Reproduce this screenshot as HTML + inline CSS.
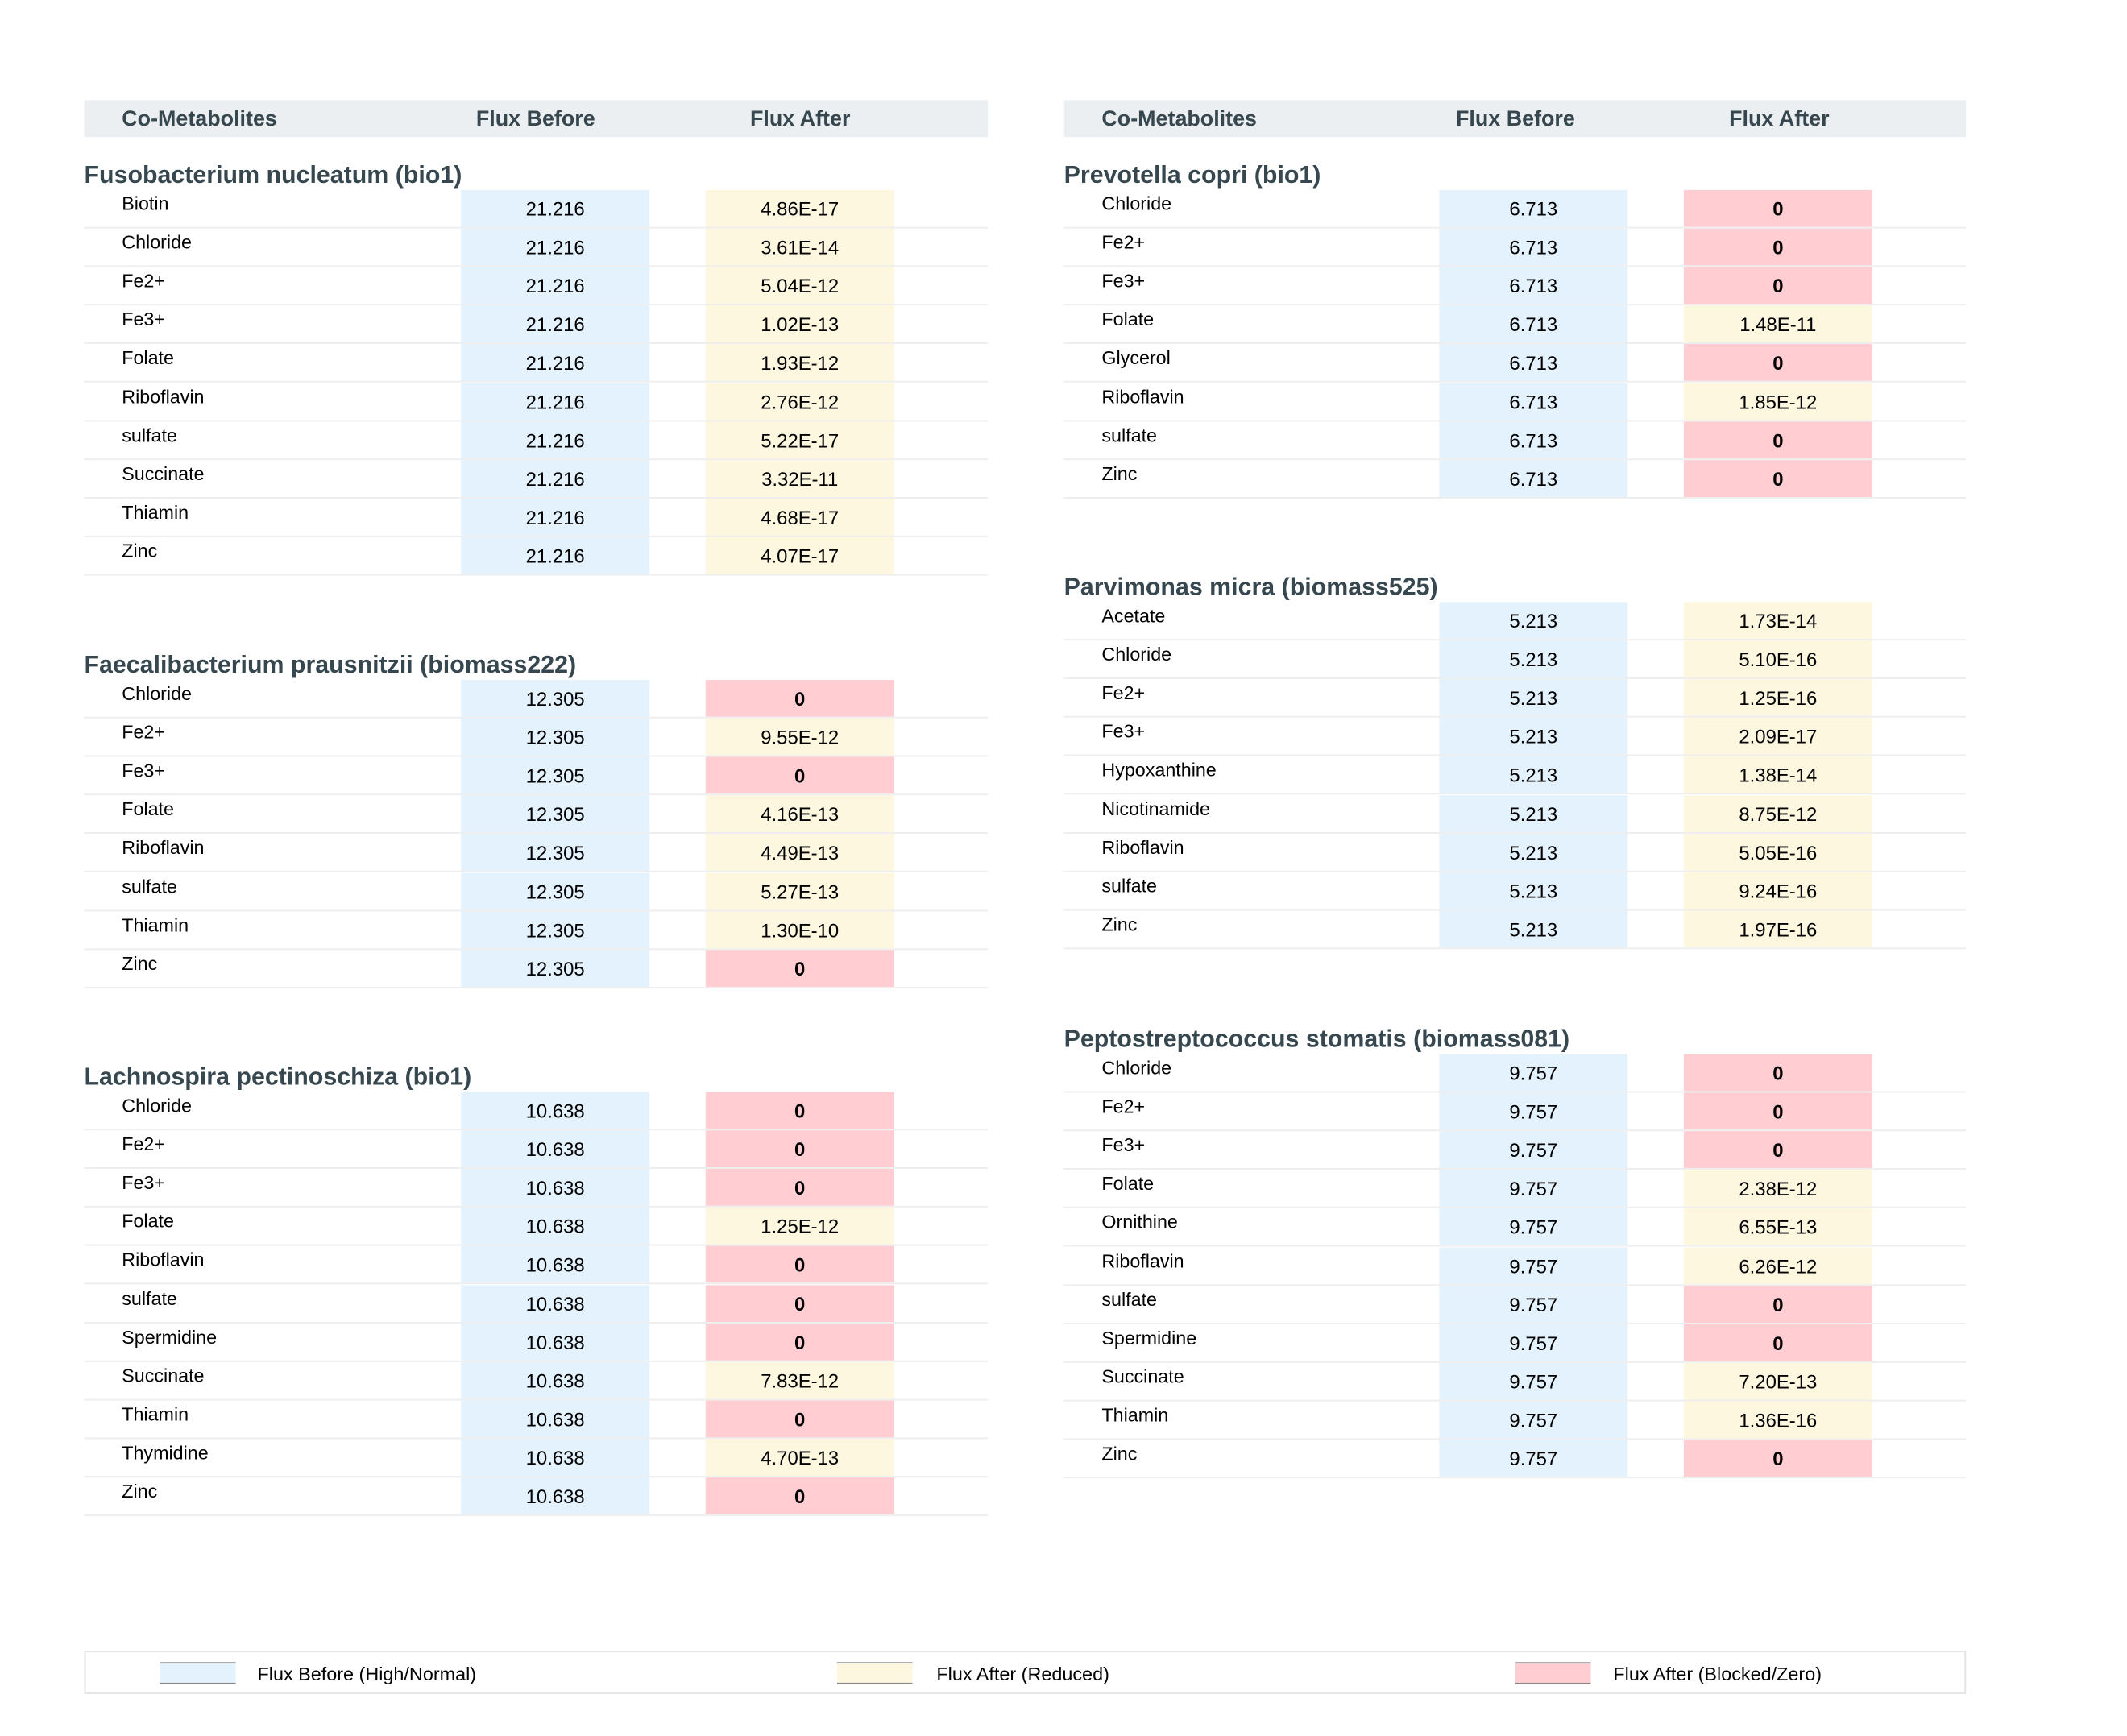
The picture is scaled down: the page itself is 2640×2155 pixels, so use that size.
<!DOCTYPE html>
<html><head><meta charset="utf-8">
<style>
body{margin:0;background:#fff;font-family:"Liberation Sans",sans-serif;}
#outer{position:relative;width:2640px;height:2155px;overflow:hidden;}
#root{position:absolute;left:0;top:0;width:2660px;height:2170px;transform:scale(0.9952);transform-origin:0 0;}
.a{position:absolute;box-sizing:border-box;}
.hdr{background:#eceff1;}
.ht{font-weight:bold;font-size:27px;color:#37474f;line-height:46px;white-space:nowrap;}
.title{font-weight:bold;font-size:30.5px;color:#37474f;white-space:nowrap;}
.nm{font-size:23.4px;color:#000;white-space:nowrap;}
.cell{font-size:24px;color:#000;text-align:center;}
.line{height:2px;background:#eeeeee;}
.lt{font-size:23.5px;color:#000;white-space:nowrap;}
</style></head>
<body><div id="outer"><div id="root"></div></div>
<script>
const sectionTitles=["Fusobacterium nucleatum (bio1)","Faecalibacterium prausnitzii (biomass222)","Lachnospira pectinoschiza (bio1)","Prevotella copri (bio1)","Parvimonas micra (biomass525)","Peptostreptococcus stomatis (biomass081)"];
const sectionColumn=[0,0,0,1,1,1];
const names0=["Biotin","Chloride","Fe2+","Fe3+","Folate","Riboflavin","sulfate","Succinate","Thiamin","Zinc"];
const before0=["21.216","21.216","21.216","21.216","21.216","21.216","21.216","21.216","21.216","21.216"];
const after0=["4.86E-17","3.61E-14","5.04E-12","1.02E-13","1.93E-12","2.76E-12","5.22E-17","3.32E-11","4.68E-17","4.07E-17"];
const names1=["Chloride","Fe2+","Fe3+","Folate","Riboflavin","sulfate","Thiamin","Zinc"];
const before1=["12.305","12.305","12.305","12.305","12.305","12.305","12.305","12.305"];
const after1=["0","9.55E-12","0","4.16E-13","4.49E-13","5.27E-13","1.30E-10","0"];
const names2=["Chloride","Fe2+","Fe3+","Folate","Riboflavin","sulfate","Spermidine","Succinate","Thiamin","Thymidine","Zinc"];
const before2=["10.638","10.638","10.638","10.638","10.638","10.638","10.638","10.638","10.638","10.638","10.638"];
const after2=["0","0","0","1.25E-12","0","0","0","7.83E-12","0","4.70E-13","0"];
const names3=["Chloride","Fe2+","Fe3+","Folate","Glycerol","Riboflavin","sulfate","Zinc"];
const before3=["6.713","6.713","6.713","6.713","6.713","6.713","6.713","6.713"];
const after3=["0","0","0","1.48E-11","0","1.85E-12","0","0"];
const names4=["Acetate","Chloride","Fe2+","Fe3+","Hypoxanthine","Nicotinamide","Riboflavin","sulfate","Zinc"];
const before4=["5.213","5.213","5.213","5.213","5.213","5.213","5.213","5.213","5.213"];
const after4=["1.73E-14","5.10E-16","1.25E-16","2.09E-17","1.38E-14","8.75E-12","5.05E-16","9.24E-16","1.97E-16"];
const names5=["Chloride","Fe2+","Fe3+","Folate","Ornithine","Riboflavin","sulfate","Spermidine","Succinate","Thiamin","Zinc"];
const before5=["9.757","9.757","9.757","9.757","9.757","9.757","9.757","9.757","9.757","9.757","9.757"];
const after5=["0","0","0","2.38E-12","6.55E-13","6.26E-12","0","0","7.20E-13","1.36E-16","0"];
const headerLabels=["Co-Metabolites","Flux Before","Flux After"];
const legendLabels=["Flux Before (High/Normal)","Flux After (Reduced)","Flux After (Blocked/Zero)"];

const allNames=[names0,names1,names2,names3,names4,names5];
const allBefore=[before0,before1,before2,before3,before4,before5];
const allAfter=[after0,after1,after2,after3,after4,after5];

const root=document.getElementById('root');
const COLS=[{x:105,w:1127,nx:152,bx:575,ax:880,hb:668,ha:998},{x:1327,w:1125,nx:1374,bx:1795,ax:2100,hb:1890,ha:2219}];
const CW=235,PITCH=48.1,CH=46;
const BLUE="#e3f2fd",YEL="#fdf7e0",RED="#ffcdd2";
function div(cls,x,y,w,h,txt){const d=document.createElement('div');d.className='a '+cls;d.style.left=x+'px';d.style.top=y+'px';if(w!=null)d.style.width=w+'px';if(h!=null)d.style.height=h+'px';if(txt!=null)d.textContent=txt;root.appendChild(d);return d;}

COLS.forEach((c,ci)=>{
  const h=div('hdr',c.x,125,c.w,46);
  
  
  const t0=div('ht',c.nx,125,null,46,headerLabels[0]);
  
  
  const t1=div('ht',c.hb-150,125,300,46,headerLabels[1]);t1.style.textAlign='center';
  
  
  const t2=div('ht',c.ha-150,125,300,46,headerLabels[2]);t2.style.textAlign='center';
  
  
});

const starts=[237,848,1362,237,751,1315];
sectionTitles.forEach((title,si)=>{
  const c=COLS[sectionColumn[si]];
  const y0=starts[si];
  const t=div('title',c.x,y0-36,null,36,title);
  
  
  const nm=allNames[si],bf=allBefore[si],af=allAfter[si];
  nm.forEach((n,i)=>{
    const y=y0+i*PITCH;
    const ne=div('nm',c.nx,y+4,null,28,n);
    
    
    const b=div('cell',c.bx,y,CW,CH,bf[i]);b.style.background=BLUE;b.style.lineHeight='49px';
    
    
    const zero=af[i]==="0";
    const a=div('cell',c.ax,y,CW,CH,af[i]);a.style.background=zero?RED:YEL;a.style.lineHeight='49px';
    if(zero)a.style.fontWeight='bold';
    
    
    const l=div('line',c.x,y+CH,c.w,2);
    
    
  });
});

const lg=div('',105,2059,2347,54);lg.style.border='2px solid #e4e4e4';


const swX=[200,1044,1890],txX=[321,1168,2012],swC=[BLUE,YEL,RED];
legendLabels.forEach((lab,i)=>{
  const s=div('',swX[i],2073,94,28);s.style.background=swC[i];s.style.borderTop='2px solid #aaa';s.style.borderBottom='2px solid #888';
  
  
  const t=div('lt',txX[i],2073,null,30,lab);t.style.lineHeight='30px';
  
  
});
</script></body></html>
